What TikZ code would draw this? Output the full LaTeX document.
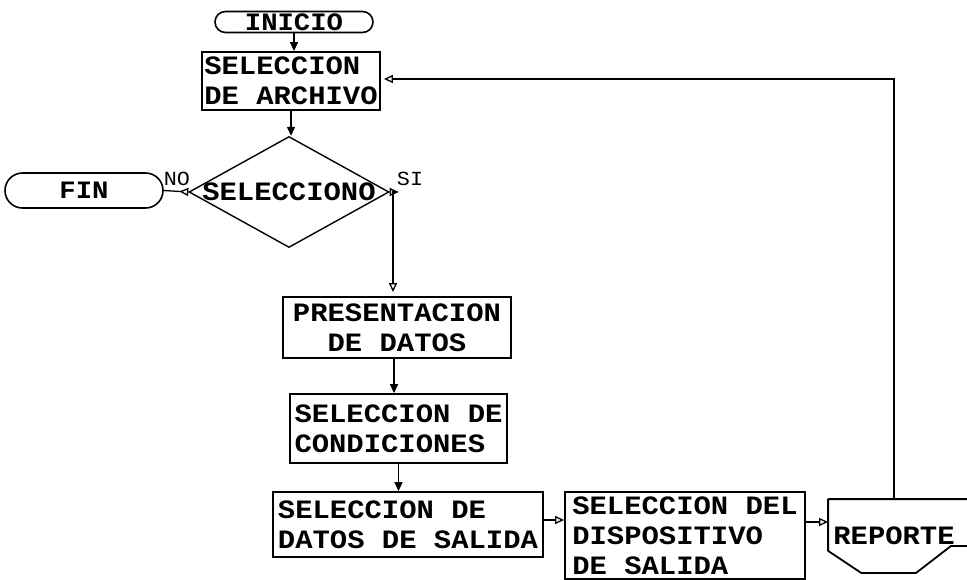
\documentclass[tikz,border=0pt]{standalone}
\usepackage{fontspec}
\newfontfamily\pix{Liberation Mono}[FakeStretch=1.09]
\usetikzlibrary{shapes.geometric,shapes.misc,arrows.meta,calc}
\begin{document}
\begin{tikzpicture}[x=1pt,y=-1pt,
 box/.style={draw, line width=1.8pt, inner sep=0pt, font=\pix\bfseries\fontsize{26.5}{30}\selectfont, align=left},
 term/.style={draw, rounded rectangle, line width=1.6pt, inner sep=0pt, font=\pix\bfseries\fontsize{25}{28}\selectfont},
 lbl/.style={font=\pix\fontsize{20}{22}\selectfont, inner sep=0pt},
 fa/.style={line width=1.3pt, -{Triangle[length=9pt,width=8pt]}},
 oa/.style={line width=1.3pt, -{Triangle[open,length=9pt,width=8pt]}}
]
\useasboundingbox (0,0) rectangle (967,580);
\fill[white] (0,0) rectangle (967,580);
\clip (0,0) rectangle (967,580);

\node[term, minimum width=158, minimum height=21] (inicio) at (294,22) {INICIO};
\node[box, minimum width=178, minimum height=58] (archivo) at (291,81) {SELECCION\\DE ARCHIVO};
\node[draw, diamond, line width=1.4pt, minimum width=200, minimum height=111, inner sep=0pt] (dec) at (289,192) {};
\node[font=\pix\bfseries\fontsize{26.5}{30}\selectfont, inner sep=0pt] (dect) at (dec.center) {SELECCIONO};
\node[term, minimum width=158, minimum height=35] (fin) at (84,190.5) {FIN};
\node[box, minimum width=228, minimum height=61, align=center] (pres) at (397,327.5) {PRESENTACION\\DE DATOS};
\node[box, minimum width=217, minimum height=69] (cond) at (398.5,428.5) {SELECCION DE\\CONDICIONES};
\node[box, minimum width=270, minimum height=65] (datos) at (408,524.5) {SELECCION DE\\DATOS DE SALIDA};
\node[box, minimum width=240, minimum height=87] (disp) at (685,535.5) {SELECCION DEL\\DISPOSITIVO\\DE SALIDA};
\node[box, draw=none, minimum width=130, minimum height=72] (rep) at (894,536) {REPORTE};
\draw[line width=1.8pt, line join=round]
  ($(rep.north east)+(16,0)$) -- (rep.north west) -- ($(rep.south west)+(0,-22)$)
  -- ($(rep.south west)+(33,0)$) -- ($(rep.south west)+(88,0)$)
  -- ($(rep.south west)+(123,-27)$) -- ($(rep.south east)+(16,-27)$);
\node[lbl] (no) at (177,178.5) {NO};
\node[lbl] (si) at (410,178.5) {SI};

\draw[fa] (inicio.south) -- (inicio.south |- archivo.north);
\draw[fa] (archivo.south) -- (archivo.south |- dec.north);
\draw[line width=1.3pt, {Triangle[open,reversed,length=9pt,width=8pt]}-{Triangle[open,length=9pt,width=8pt]}, shorten >=4pt] (dec.east) -| ([xshift=-4pt]pres.north);
\draw[line width=1.3pt, {Triangle[open,reversed,length=9pt,width=8pt]}-] (dec.west) -- (fin.east);
\draw[fa] ([xshift=-3pt]pres.south) -- ([xshift=-3pt]pres.south |- cond.north);
\draw[fa] (cond.south) -- (cond.south |- datos.north);
\draw[oa] ([yshift=4.5pt]datos.east) -- ([yshift=4.5pt]datos.east -| disp.west);
\draw[oa] ([yshift=13.5pt]disp.east) -- ([yshift=13.5pt]disp.east -| rep.west);
\coordinate (bk) at (894,79);
\draw[oa, shorten >=3pt] (rep.north) -- (bk) -- (archivo.east |- bk);
\end{tikzpicture}
\end{document}
